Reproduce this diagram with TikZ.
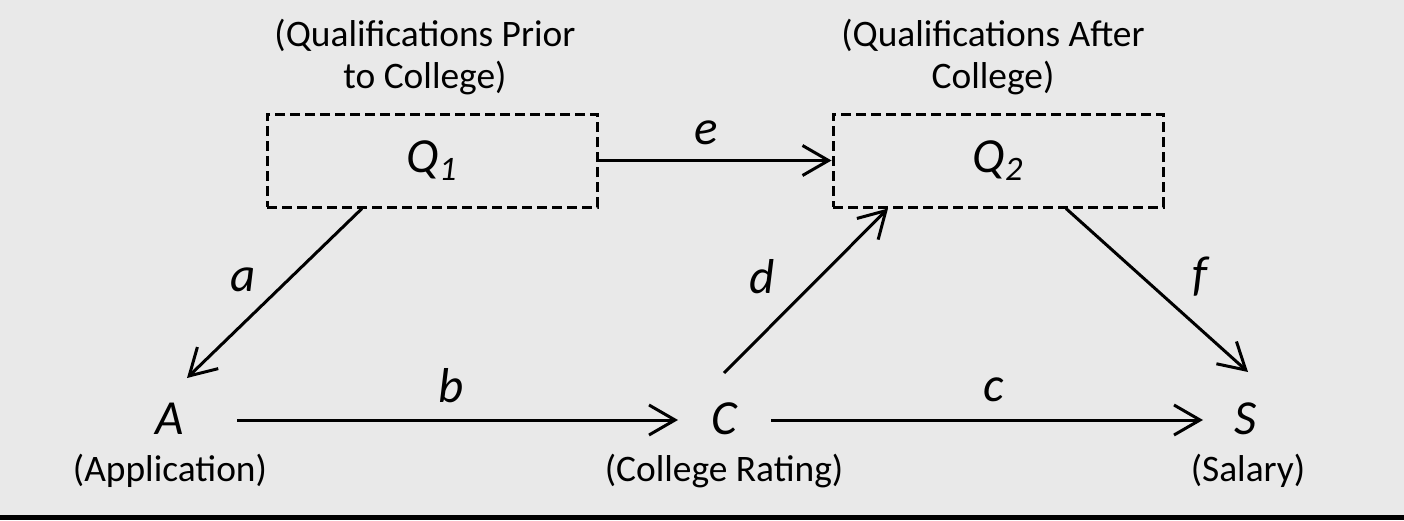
\documentclass[tikz,border=0pt]{standalone}
\usepackage{fontspec}
\setmainfont{Carlito}
\usetikzlibrary{calc,arrows.meta}
\definecolor{bg}{RGB}{233,233,233}

\begin{document}
\begin{tikzpicture}[x=.5pt,y=-.5pt,
    font=\fontsize{18.7}{21}\selectfont,
    qbox/.style={draw, dash pattern=on 5pt off 2.5pt, line width=1.5pt,
      minimum width=165pt, minimum height=46.5pt, inner sep=0pt},
    var/.style={font=\fontsize{24.5}{26}\selectfont\itshape, inner sep=0pt},
    arr/.style={line width=1.5pt,
      -{Straight Barb[length=13pt,width=15pt,line width=1.5pt]}}]
      \useasboundingbox (0,0) rectangle (1404,520);
      \fill[bg] (0,0) rectangle (1404,520);
      \fill[black] (0,515) rectangle (1404,520);
      % the two qualification boxes
      \node (Q1) at (432,160.5) [qbox, var] {Q\textsubscript{1}};
      \node (q1) at (425,57) [align=center] {(Qualifications Prior\\to College)};
      \node (Q2) at (998,160.5) [qbox, var] {Q\textsubscript{2}};
      \node (q2) at (993,57) [align=center] {(Qualifications After\\College)};
      % the observed variables
      \node (A) at (170,419) [var] {A};
      \node (a0) at (170,471) {(Application)};
      \node (C) at (724,419) [var] {C};
      \node (c0) at (724,471) {(College Rating)};
      \node (S) at (1246,419) [var] {S};
      \node (s0) at (1248,471) {(Salary)};
      % paths
      \draw[arr] ($(Q1.south)+(-70,0)$) -- ($(A)+(17,-41)$);
      \draw[arr] ($(A)+(67,1)$) -- ($(C)+(-46,1)$);
      \draw[arr] ($(C)+(47,1)$) -- ($(S)+(-43,1)$);
      \draw[arr] ($(C)+(0,-46)$) -- ($(Q2.south)+(-110,0)$);
      \draw[arr] (Q1.east) -- (Q2.west);
      \draw[arr] ($(Q2.south)+(68,0)$) -- ($(S)+(2,-47)$);
      \node (la) at (243,280) [var] {a};
      \node (lb) at (451,386) [var] {b};
      \node (lc) at (994,390) [var] {c};
      \node (ld) at (762,277) [var] {d};
      \node (le) at (706,133) [var] {e};
      \node (lf) at (1200,277) [var] {f};
\end{tikzpicture}
\end{document}
